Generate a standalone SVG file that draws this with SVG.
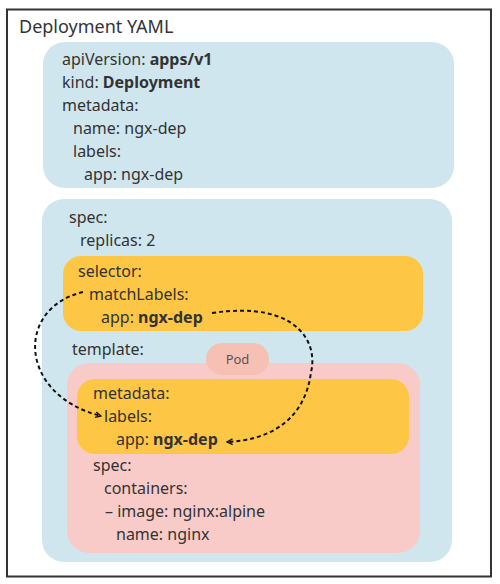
<svg xmlns="http://www.w3.org/2000/svg" width="500" height="584" viewBox="0 0 500 584">
<defs>
<style>
.t{font-family:"Noto Sans","Liberation Sans",sans-serif;font-size:16px;fill:#333}
.b{font-weight:bold}
.blue{fill:#cfe6ee}
.yel{fill:#fec645}
.pink{fill:#f8cbc8}
.dash{fill:none;stroke:#111;stroke-width:2;stroke-dasharray:4 3}
</style>
<marker id="arr" viewBox="0 0 10 10" refX="9" refY="5" markerWidth="7" markerHeight="7" orient="auto" markerUnits="userSpaceOnUse">
<path d="M1,1 L9,5 L1,9" fill="none" stroke="#111" stroke-width="2"/>
</marker>
</defs>
<rect width="500" height="584" fill="#fff"/>
<g id="frame">
<rect x="7" y="9.5" width="484" height="567" fill="#fff" stroke="#333" stroke-width="2"/>
<text class="t" x="19" y="33" style="font-size:18px">Deployment YAML</text>
</g>
<g id="header">
<rect class="blue" x="43" y="42" width="411" height="146" rx="22"/>
<text class="t" x="62" y="65">apiVersion: <tspan class="b">apps/v1</tspan></text>
<text class="t" x="62" y="88">kind: <tspan class="b">Deployment</tspan></text>
<text class="t" x="62" y="111">metadata:</text>
<text class="t" x="73" y="134">name: ngx-dep</text>
<text class="t" x="73" y="157">labels:</text>
<text class="t" x="84" y="180">app: ngx-dep</text>
</g>
<g id="spec">
<rect class="blue" x="42" y="199" width="410" height="363" rx="22"/>
<text class="t" x="69" y="223">spec:</text>
<text class="t" x="80" y="246">replicas: 2</text>
<text class="t" x="72" y="355">template:</text>
</g>
<g id="selector">
<rect class="yel" x="63" y="256" width="360" height="75" rx="18"/>
<text class="t" x="78" y="277">selector:</text>
<text class="t" x="89" y="300">matchLabels:</text>
<text class="t" x="101" y="323">app: <tspan class="b">ngx-dep</tspan></text>
</g>
<g id="pod-template">
<rect class="pink" x="67" y="363" width="353" height="190" rx="22"/>
<text class="t" x="93" y="471">spec:</text>
<text class="t" x="104" y="494">containers:</text>
<text class="t" x="105" y="517">– image: nginx:alpine</text>
<text class="t" x="116" y="540">name: nginx</text>
</g>
<g id="pod-metadata">
<rect class="yel" x="77" y="379" width="332" height="75" rx="18"/>
<text class="t" x="93" y="399">metadata:</text>
<text class="t" x="104" y="422">labels:</text>
<text class="t" x="116" y="445">app: <tspan class="b">ngx-dep</tspan></text>
</g>
<g id="pod-label">
<rect x="206" y="343" width="63" height="32" rx="16" fill="#f7c0b4"/>
<text class="t" x="237.5" y="364" text-anchor="middle" style="font-size:13px;fill:#555">Pod</text>
</g>
<g id="connectors">
<path class="dash" d="M83,292 C15,308 18,395 101,416" marker-end="url(#arr)"/>
<path class="dash" d="M212,313 C300,300 318,345 311,372 C305,420 270,440 227,442" marker-end="url(#arr)"/>
</g>
</svg>
